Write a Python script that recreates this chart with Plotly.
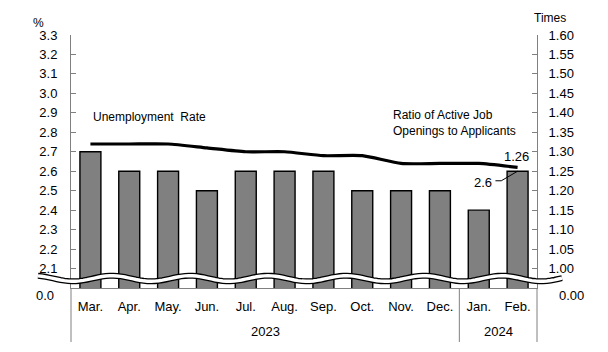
import numpy as np
import plotly.graph_objects as go

# ---------------- data ----------------
months = ["Mar.", "Apr.", "May.", "Jun.", "Jul.", "Aug.", "Sep.", "Oct.", "Nov.", "Dec.", "Jan.", "Feb."]
unemployment = [2.7, 2.6, 2.6, 2.5, 2.6, 2.6, 2.6, 2.5, 2.5, 2.5, 2.4, 2.6]
ratio = [1.32, 1.32, 1.32, 1.31, 1.30, 1.30, 1.29, 1.29, 1.27, 1.27, 1.27, 1.26]
left_ticks = [2.1, 2.2, 2.3, 2.4, 2.5, 2.6, 2.7, 2.8, 2.9, 3.0, 3.1, 3.2, 3.3]
right_ticks = [1.00, 1.05, 1.10, 1.15, 1.20, 1.25, 1.30, 1.35, 1.40, 1.45, 1.50, 1.55, 1.60]
years = ["2023", "2024"]

# ---------------- geometry ----------------
W, H = 608, 352
L, R, T, B = 71, 71, 35, 64
PW, PH = W - L - R, H - T - B

def px_x(p):
    return (p - L) / PW

def px_y(p):
    return (H - B - p) / PH

FONT = "Liberation Sans"
GRAY = "#808080"

fig = go.Figure()
fig.add_trace(go.Bar(
    x=months, y=unemployment, yaxis="y",
    marker=dict(color="#808080", line=dict(color="black", width=1.4)),
    width=0.54, showlegend=False, hoverinfo="x+y",
))
fig.add_trace(go.Scatter(
    x=months, y=ratio, yaxis="y2", mode="lines",
    line=dict(color="black", width=3.2, shape="spline", smoothing=0.6),
    showlegend=False,
))

shapes = []
# axis extensions below the plot and the year separator
ext = px_y(342)
shapes.append(dict(type="line", xref="paper", yref="paper", x0=0, x1=0, y0=0, y1=ext,
                   line=dict(color=GRAY, width=1)))
shapes.append(dict(type="line", xref="paper", yref="paper", x0=1, x1=1, y0=0, y1=ext,
                   line=dict(color=GRAY, width=1)))
shapes.append(dict(type="line", xref="x", yref="paper", x0=9.5, x1=9.5, y0=0, y1=ext,
                   line=dict(color=GRAY, width=1)))

# axis break wave
xs = np.linspace(38, 562, 140)
ys = 278.5 + 2.8 * np.sin((xs - 73) / 78 * 2 * np.pi + np.pi / 2)
path = "M " + " L ".join(f"{px_x(a):.5f},{px_y(b):.5f}" for a, b in zip(xs, ys))
shapes.append(dict(type="path", xref="paper", yref="paper", path=path,
                   line=dict(color="black", width=6), layer="above"))
shapes.append(dict(type="path", xref="paper", yref="paper", path=path,
                   line=dict(color="white", width=3.4), layer="above"))

# leader line for 2.6
shapes.append(dict(type="path", xref="x", yref="y",
                   path="M 10.43,2.551 L 10.58,2.551 L 11,2.6",
                   line=dict(color="black", width=1)))

ann = []
def txt(text, x, y, xanchor="center", size=12, **kw):
    d = dict(text=text, x=x, y=y, xref="paper", yref="paper", xanchor=xanchor,
             yanchor="middle", showarrow=False, font=dict(family=FONT, size=size, color="black"))
    d.update(kw)
    ann.append(d)

txt("%", px_x(38), px_y(22.7), size=12)
txt("Times", px_x(550), px_y(18.3), size=12)
txt("0.0", px_x(55.5), px_y(295), xanchor="right", size=13)
txt("0.00", px_x(557), px_y(295), xanchor="left", size=13)
txt("Unemployment\u00a0 Rate", px_x(149), px_y(116.7), size=12)
txt("Ratio of Active Job<br>Openings to Applicants", px_x(391), px_y(123), xanchor="left",
    size=12, align="left")
for yr, xc in zip(years, [4.5, 10.5]):
    ann.append(dict(text=yr, x=xc, y=px_y(331.7), xref="x", yref="paper", showarrow=False,
                    xanchor="center", yanchor="middle",
                    font=dict(family=FONT, size=13, color="black")))
ann.append(dict(text=f"{ratio[-1]:.2f}", x=months[-1], y=ratio[-1], xref="x", yref="y2",
                showarrow=False, xanchor="center", yanchor="middle", xshift=-1, yshift=11,
                font=dict(family=FONT, size=13, color="black")))
ann.append(dict(text=f"{unemployment[-1]:.1f}", x=months[-1], y=unemployment[-1], xref="x", yref="y",
                showarrow=False, xanchor="center", yanchor="middle", xshift=-34.7, yshift=-11.2,
                font=dict(family=FONT, size=13, color="black")))

fig.update_layout(
    width=W, height=H,
    margin=dict(l=L, r=R, t=T, b=B),
    paper_bgcolor="white", plot_bgcolor="white",
    font=dict(family=FONT, size=13, color="black"),
    bargap=0.46,
    xaxis=dict(type="category", showgrid=False, zeroline=False, showline=True,
               linecolor=GRAY, linewidth=1, ticks="", ticklabelstandoff=6,
               tickfont=dict(family=FONT, size=13), range=[-0.5, 11.5]),
    yaxis=dict(range=[2.0, 3.3], tickvals=left_ticks, ticktext=[f"{v:.1f}" for v in left_ticks],
               ticks="inside", ticklen=5, tickcolor=GRAY, showline=True, linecolor=GRAY,
               linewidth=1, showgrid=False, zeroline=False, ticklabelstandoff=10,
               tickfont=dict(family=FONT, size=13)),
    yaxis2=dict(range=[0.95, 1.60], tickvals=right_ticks, ticktext=[f"{v:.2f}" for v in right_ticks],
                overlaying="y", side="right", ticks="inside", ticklen=5, tickcolor=GRAY,
                showline=True, linecolor=GRAY, linewidth=1, showgrid=False, zeroline=False,
                ticklabelstandoff=8, tickfont=dict(family=FONT, size=13)),
    shapes=shapes, annotations=ann,
)

fig.write_html("out.html")
